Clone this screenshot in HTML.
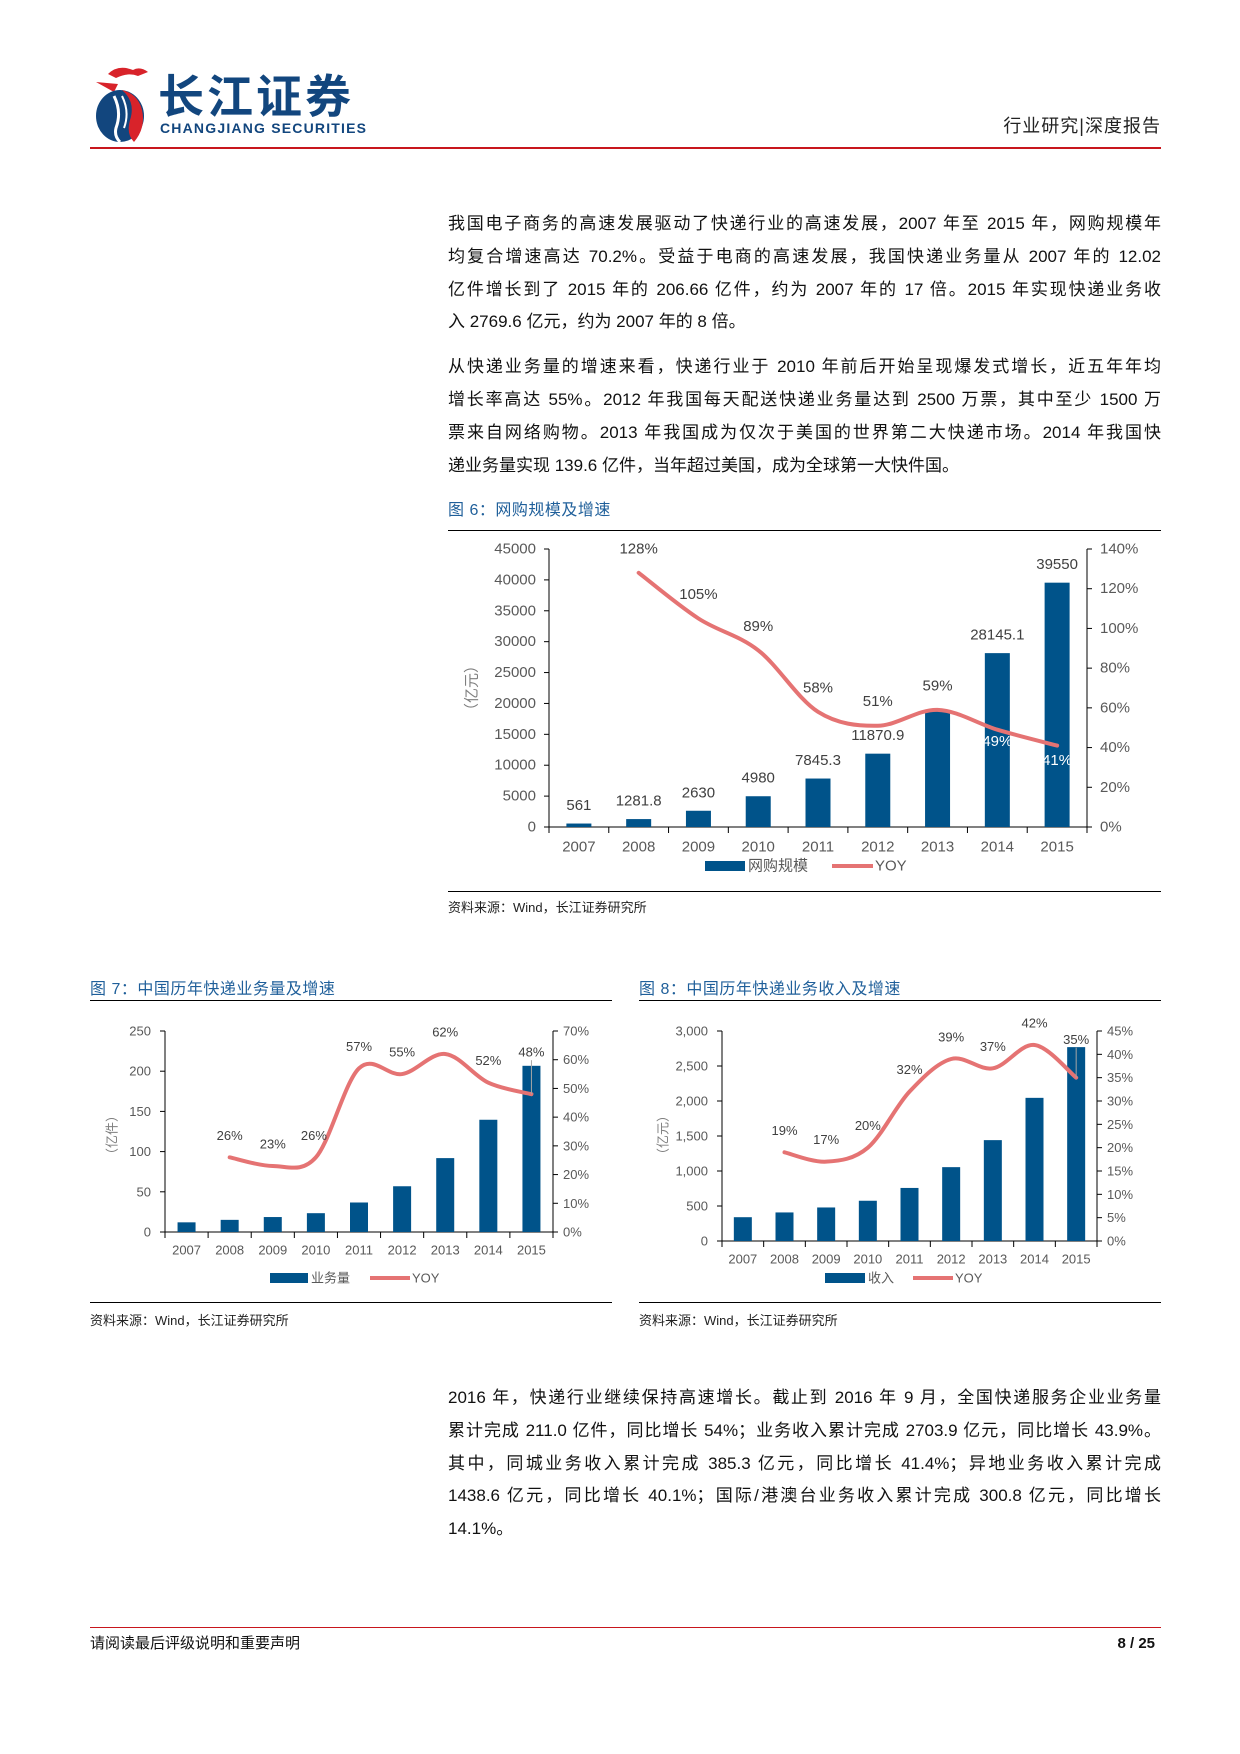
<!DOCTYPE html>
<html><head><meta charset="utf-8">
<style>
body{margin:0;background:#fff;}
#page{position:relative;width:1240px;height:1754px;overflow:hidden;background:#fff;font-family:"Liberation Sans","Noto Sans CJK SC",sans-serif;color:#111;}
.ln{position:absolute;left:448px;width:713px;font-size:17px;line-height:20px;text-align:justify;text-align-last:justify;white-space:nowrap;}
.ln.last{text-align-last:left;}
.abs{position:absolute;}
.rule{position:absolute;height:1px;background:#000;}
.ttl{position:absolute;font-size:16px;color:#1f5f9a;line-height:18px;letter-spacing:0.5px;}
.src{position:absolute;font-size:13px;color:#222;line-height:16px;}
svg text{font-family:"Liberation Sans","Noto Sans CJK SC",sans-serif;}
</style></head><body>
<div id="page">
<svg class="abs" style="left:88px;top:62px" width="70" height="82">
<path d="M20 12 Q30 2 45 8 Q52 4 60 10 L50 14 Q40 10 28 16 Z" fill="#d8232a"/>
<path d="M8 20 L30 22 L26 30 Z" fill="#d8232a"/>
<ellipse cx="32" cy="54" rx="24" ry="26" fill="#12467e"/>
<path d="M34 28 Q48 40 42 58 Q38 72 46 80 Q58 66 54 48 Q50 32 34 28Z" fill="#d8232a"/>
<path d="M26 34 Q34 50 28 66 Q26 74 32 80" stroke="#fff" stroke-width="3" fill="none"/>
<path d="M34 34 Q42 50 36 66" stroke="#fff" stroke-width="2" fill="none"/>
</svg>
<div class="abs" style="left:158px;top:74px;font-size:46px;font-weight:bold;color:#12467e;letter-spacing:3px;line-height:46px">长江证券</div>
<div class="abs" style="left:160px;top:121px;font-size:14px;font-weight:bold;color:#12467e;letter-spacing:1.2px;line-height:15px">CHANGJIANG SECURITIES</div>
<div class="abs" style="left:961px;top:116px;width:200px;text-align:right;font-size:18px;letter-spacing:1px;line-height:20px;color:#222">行业研究|深度报告</div>
<div class="abs" style="left:90px;top:147px;width:1071px;height:2px;background:#c8161d"></div>

<div>
<div class="ln" style="top:214px">我国电子商务的高速发展驱动了快递行业的高速发展，2007 年至 2015 年，网购规模年</div>
<div class="ln" style="top:247px">均复合增速高达 70.2%。受益于电商的高速发展，我国快递业务量从 2007 年的 12.02</div>
<div class="ln" style="top:280px">亿件增长到了 2015 年的 206.66 亿件，约为 2007 年的 17 倍。2015 年实现快递业务收</div>
<div class="ln last" style="top:312px">入 2769.6 亿元，约为 2007 年的 8 倍。</div>
</div>
<div>
<div class="ln" style="top:357px">从快递业务量的增速来看，快递行业于 2010 年前后开始呈现爆发式增长，近五年年均</div>
<div class="ln" style="top:390px">增长率高达 55%。2012 年我国每天配送快递业务量达到 2500 万票，其中至少 1500 万</div>
<div class="ln" style="top:423px">票来自网络购物。2013 年我国成为仅次于美国的世界第二大快递市场。2014 年我国快</div>
<div class="ln last" style="top:456px">递业务量实现 139.6 亿件，当年超过美国，成为全球第一大快件国。</div>
</div>

<div class="ttl" style="left:448px;top:502px">图 6：网购规模及增速</div>
<div class="rule" style="left:448px;top:530px;width:713px"></div>
<div class="rule" style="left:448px;top:891px;width:713px"></div>
<div class="src" style="left:448px;top:900px">资料来源：Wind，长江证券研究所</div>

<div class="ttl" style="left:90px;top:981px">图 7：中国历年快递业务量及增速</div>
<div class="rule" style="left:90px;top:1000px;width:522px"></div>
<div class="rule" style="left:90px;top:1302px;width:522px"></div>
<div class="src" style="left:90px;top:1313px">资料来源：Wind，长江证券研究所</div>

<div class="ttl" style="left:639px;top:981px">图 8：中国历年快递业务收入及增速</div>
<div class="rule" style="left:639px;top:1000px;width:522px"></div>
<div class="rule" style="left:639px;top:1302px;width:522px"></div>
<div class="src" style="left:639px;top:1313px">资料来源：Wind，长江证券研究所</div>

<svg id="charts" class="abs" style="left:0;top:0" width="1240" height="1754"></svg>

<div>
<div class="ln" style="top:1388px">2016 年，快递行业继续保持高速增长。截止到 2016 年 9 月，全国快递服务企业业务量</div>
<div class="ln" style="top:1421px">累计完成 211.0 亿件，同比增长 54%；业务收入累计完成 2703.9 亿元，同比增长 43.9%。</div>
<div class="ln" style="top:1454px">其中，同城业务收入累计完成 385.3 亿元，同比增长 41.4%；异地业务收入累计完成</div>
<div class="ln" style="top:1486px">1438.6 亿元，同比增长 40.1%；国际/港澳台业务收入累计完成 300.8 亿元，同比增长</div>
<div class="ln last" style="top:1519px">14.1%。</div>
</div>

<div class="abs" style="left:90px;top:1627px;width:1071px;height:1px;background:#c8161d"></div>
<div class="abs" style="left:90px;top:1635px;font-size:15px;line-height:18px">请阅读最后评级说明和重要声明</div>
<div class="abs" style="left:1100px;top:1635px;width:55px;text-align:right;font-size:15px;font-weight:bold;line-height:18px">8 / 25</div>
</div>

<script>
const years = ["2007","2008","2009","2010","2011","2012","2013","2014","2015"];
// Figure 6
const shopValues = [561, 1281.8, 2630, 4980, 7845.3, 11870.9, 18851, 28145.1, 39550];
const shopLabels = ["561","1281.8","2630","4980","7845.3","11870.9","","28145.1","39550"];
const shopYoy = [null, 128, 105, 89, 58, 51, 59, 49, 41];
const shopLeftTicks = [0,5000,10000,15000,20000,25000,30000,35000,40000,45000];
const shopRightTicks = [0,20,40,60,80,100,120,140];
// Figure 7
const volValues = [12.02, 15.1, 18.6, 23.4, 36.7, 56.9, 91.9, 139.6, 206.7];
const volYoy = [null, 26, 23, 26, 57, 55, 62, 52, 48];
const volLeftTicks = [0,50,100,150,200,250];
const volRightTicks = [0,10,20,30,40,50,60,70];
// Figure 8
const revValues = [340, 408, 479, 575, 758, 1055, 1441, 2045, 2769.6];
const revYoy = [null, 19, 17, 20, 32, 39, 37, 42, 35];
const revLeftTicks = [0,500,1000,1500,2000,2500,3000];
const revRightTicks = [0,5,10,15,20,25,30,35,40,45];

const NS="http://www.w3.org/2000/svg";
const svg=document.getElementById('charts');
function mk(tag,attrs,parent){const e=document.createElementNS(NS,tag);for(const k in attrs)e.setAttribute(k,attrs[k]);(parent||svg).appendChild(e);return e;}
function txt(s,x,y,size,fill,anchor,parent){const t=mk('text',{x:x,y:y,'font-size':size,fill:fill,'text-anchor':anchor||'middle','dominant-baseline':'central'},parent);t.textContent=s;return t;}
function smooth(pts){let d='M'+pts[0][0]+' '+pts[0][1];for(let i=0;i<pts.length-1;i++){const p0=pts[i-1]||pts[i],p1=pts[i],p2=pts[i+1],p3=pts[i+2]||p2;const c1x=p1[0]+(p2[0]-p0[0])/6,c1y=p1[1]+(p2[1]-p0[1])/6,c2x=p2[0]-(p3[0]-p1[0])/6,c2y=p2[1]-(p3[1]-p1[1])/6;d+=` C${c1x} ${c1y} ${c2x} ${c2y} ${p2[0]} ${p2[1]}`;}return d;}

function chart(c){
  const g=mk('g',{});
  
  
  const band=(c.x1-c.x0)/c.cats.length;
  const xc=i=>c.x0+band*(i+0.5);
  const yl=v=>c.yZero-(v/c.lMax)*(c.yZero-c.yTop);
  const yr=v=>c.yZero-(v/c.rMax)*(c.yZero-c.yTop);
  const ax='#000';
  const la=mk('line',{x1:c.x0,y1:c.yTop,x2:c.x0,y2:c.yZero,stroke:ax,'stroke-width':1},g);
  
  const ra=mk('line',{x1:c.x1,y1:c.yTop,x2:c.x1,y2:c.yZero,stroke:ax,'stroke-width':1},g);
  
  const xa=mk('line',{x1:c.x0,y1:c.yZero,x2:c.x1,y2:c.yZero,stroke:ax,'stroke-width':1},g);
  
  c.lTicks.forEach(v=>{const y=yl(v);mk('line',{x1:c.x0-5,y1:y,x2:c.x0,y2:y,stroke:ax},g);
    const t=txt(c.lFmt(v),c.lLabX,y,c.fs,'#595959','end',g);});
  c.rTicks.forEach(v=>{const y=yr(v);mk('line',{x1:c.x1,y1:y,x2:c.x1+5,y2:y,stroke:ax},g);
    const t=txt(v+'%',c.rLabX,y,c.fs,'#595959','start',g);});
  for(let i=0;i<=c.cats.length;i++){const x=c.x0+band*i;mk('line',{x1:x,y1:c.yZero,x2:x,y2:c.yZero+6,stroke:ax},g);}
  c.cats.forEach((s,i)=>{const t=txt(s,xc(i),c.xLabY,c.fs,'#595959','middle',g);});
  c.bars.forEach((v,i)=>{const y=yl(v);const r=mk('rect',{x:xc(i)-c.bw/2,y:y,width:c.bw,height:c.yZero-y,fill:'#00538a'},g);
    
    if(c.barLabels&&c.barLabels[i]){const t=txt(c.barLabels[i],xc(i),y-18,c.fs,'#404040','middle',g);}});
  const pts=[];c.yoy.forEach((v,i)=>{if(v!==null)pts.push([xc(i),yr(v)]);});
  const p=mk('path',{d:smooth(pts),fill:'none',stroke:'#e57373','stroke-width':4,'stroke-linecap':'round'},g);
  
  c.yoy.forEach((v,i)=>{if(v===null)return;const y=yr(v);const off=(c.off&&c.off[i])||c.lo;
    if(off>c.lo+10){mk('line',{x1:xc(i),y1:y-off+8,x2:xc(i),y2:y,stroke:'#a6a6a6'},g);}
    const white=c.white&&c.white[i];
    const t=txt(v+'%',xc(i)+((c.dx&&c.dx[i])||0),y-off,c.fs,white?'#fff':'#404040','middle',g);
    });
  const yt=txt(c.yTitle,0,0,c.fs,'#7f7f7f','middle',g);yt.setAttribute('transform',`translate(${c.ytX},${c.ytY}) rotate(-90)`);
  
  const lg=mk('g',{},g);
  mk('rect',{x:c.lg[0],y:c.lgY-5,width:c.lg[1]-c.lg[0],height:10,fill:'#00538a'},lg);
  txt(c.barName,c.lg[1]+3,c.lgY,c.fs,'#595959','start',lg);
  mk('line',{x1:c.lg[2],y1:c.lgY,x2:c.lg[3],y2:c.lgY,stroke:'#e57373','stroke-width':4},lg);
  txt('YOY',c.lg[3]+2,c.lgY,c.fs,'#595959','start',lg);
}
chart({name:'chart-online-shopping',cats:years,x0:549,x1:1087,yTop:549,yZero:827,lMax:45000,rMax:140,
  lTicks:shopLeftTicks,rTicks:shopRightTicks,lFmt:v=>String(v),lLabX:536,rLabX:1100,fs:15,xLabY:847,bw:25,
  bars:shopValues,barLabels:shopLabels,yoy:shopYoy,lo:24,white:[0,0,0,0,0,0,0,1,1],off:{7:-12,8:-15},dx:{7:0,8:0},
  yTitle:'（亿元）',ytX:472,ytY:688,lgY:866,lg:[705,745,832,873],barName:'网购规模'});
chart({name:'chart-express-volume',cats:years,x0:165,x1:553,yTop:1031,yZero:1232,lMax:250,rMax:70,
  lTicks:volLeftTicks,rTicks:volRightTicks,lFmt:v=>String(v),lLabX:151,rLabX:563,fs:13,xLabY:1250,bw:18,
  bars:volValues,barLabels:null,yoy:volYoy,lo:22,off:{8:42},dx:{3:-2},
  yTitle:'（亿件）',ytX:112,ytY:1135,lgY:1278,lg:[270,308,370,410],barName:'业务量'});
chart({name:'chart-express-revenue',cats:years,x0:722,x1:1097,yTop:1031,yZero:1241,lMax:3000,rMax:45,
  lTicks:revLeftTicks,rTicks:revRightTicks,lFmt:v=>v.toLocaleString('en-US'),lLabX:708,rLabX:1107,fs:13,xLabY:1259,bw:18,
  bars:revValues,barLabels:null,yoy:revYoy,lo:22,off:{8:38},
  yTitle:'（亿元）',ytX:663,ytY:1135,lgY:1278,lg:[825,865,913,953],barName:'收入'});
</script>
</body></html>
